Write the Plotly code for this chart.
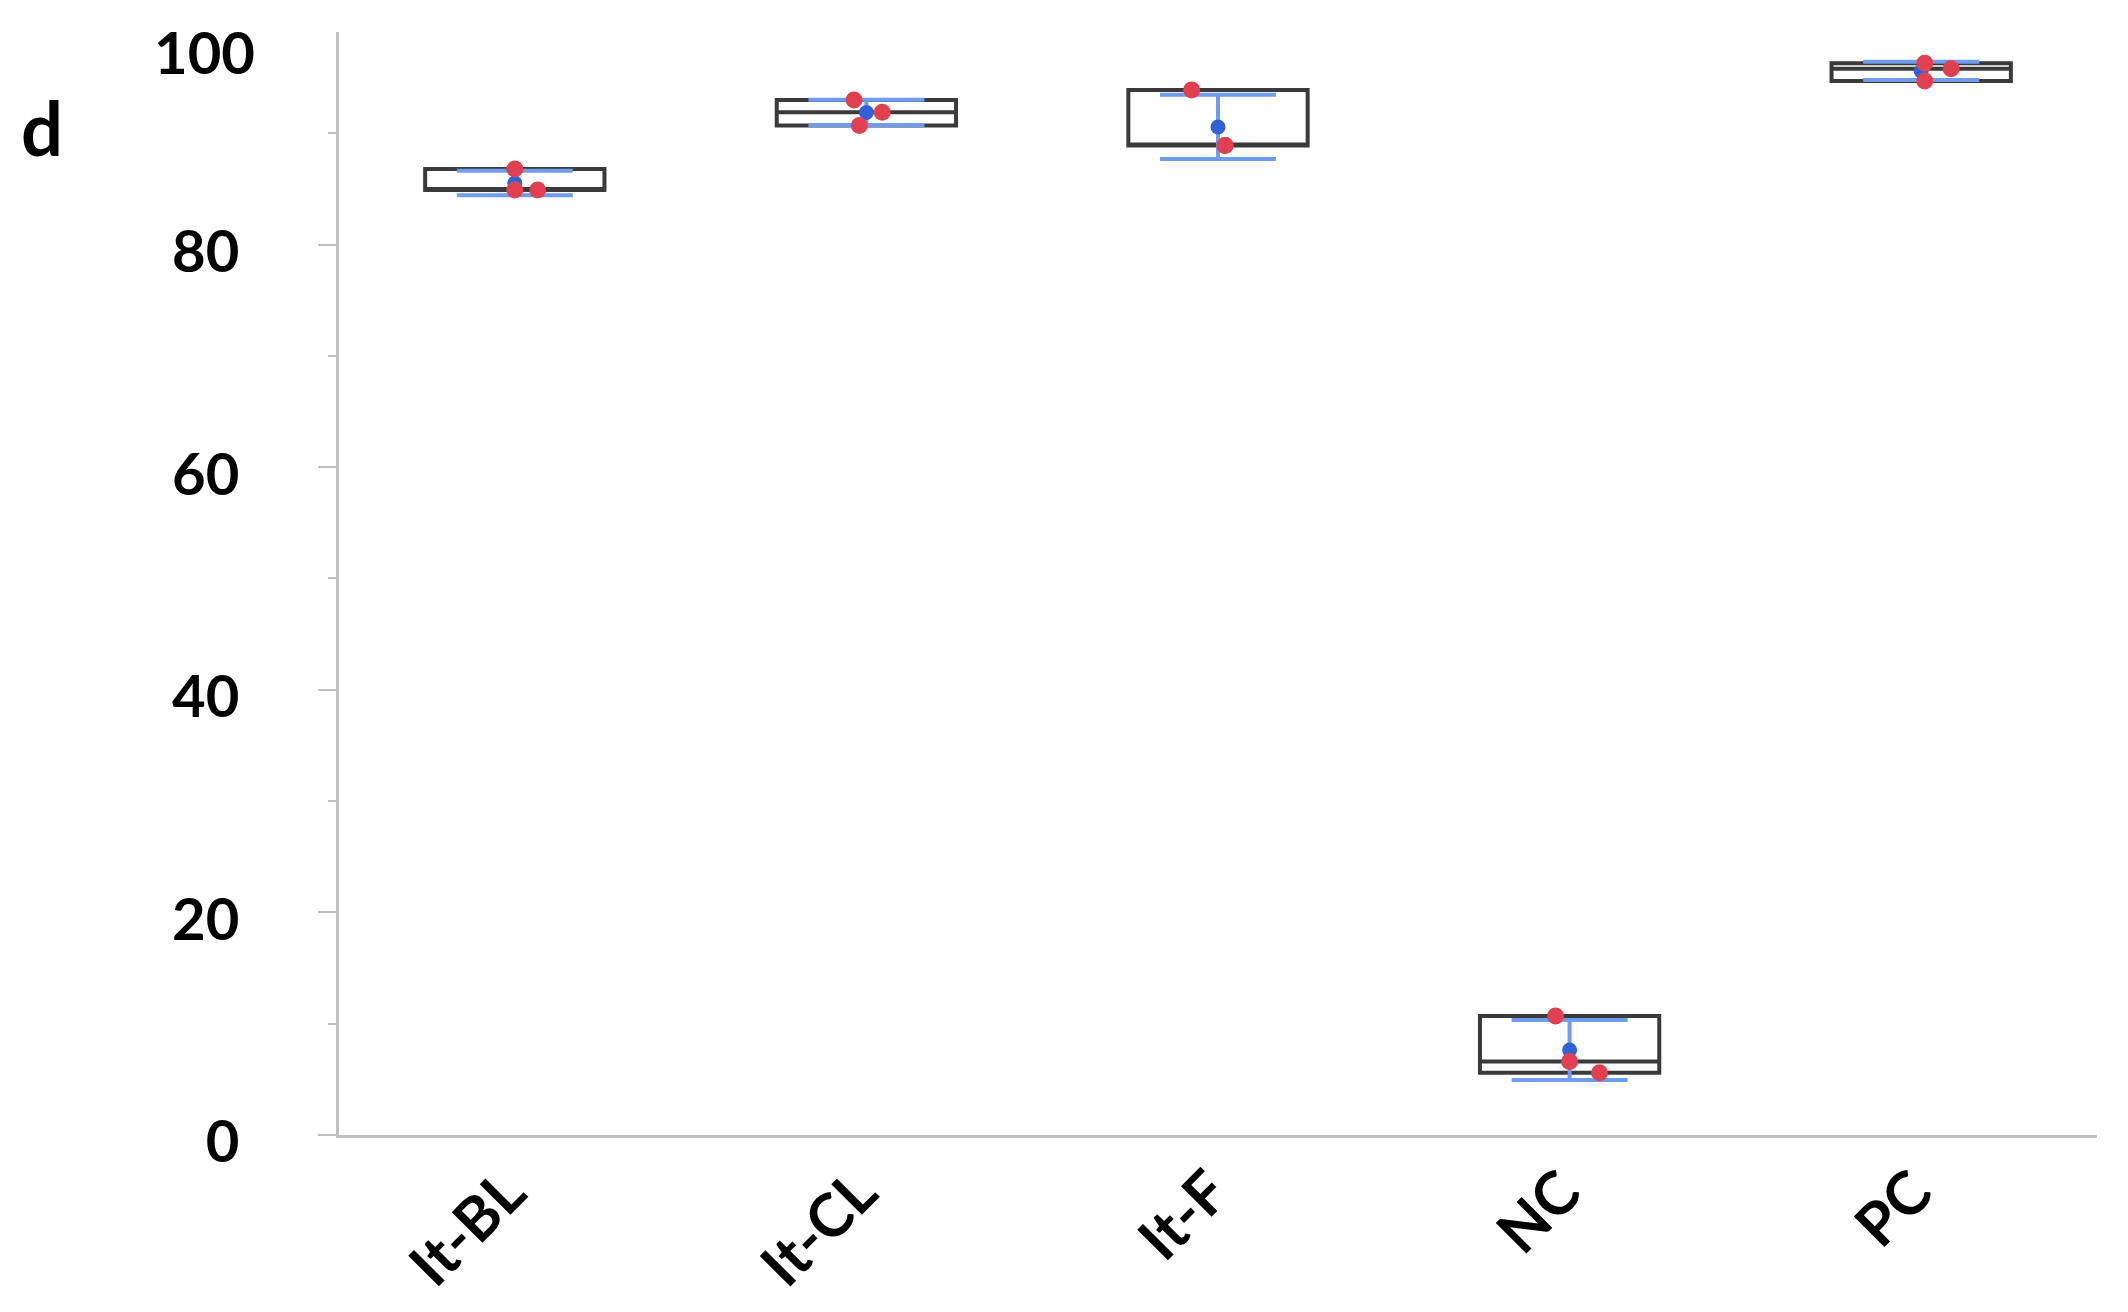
import numpy as np
import plotly.graph_objects as go

# data (three replicates per group)
groups = ["It-BL", "It-CL", "It-F", "NC", "PC"]
it_bl = [86.8, 84.9, 84.9]
it_cl = [93.0, 91.9, 90.7]
it_f = [93.9, 88.9, 88.9]
nc = [10.7, 6.6, 5.6]
pc = [96.3, 94.7, 95.8]
y_ticks = [0, 20, 40, 60, 80]
y_top_label = 100
y_max = 99.1

series = [it_bl, it_cl, it_f, nc, pc]

# horizontal scatter of the replicate dots (category units)
JITTER = [
    [0.0, 0.0, 0.065],
    [-0.035, 0.045, -0.02],
    [-0.075, 0.02, 0.02],
    [-0.04, 0.0, 0.085],
    [0.01, 0.01, 0.085],
]

BOX_LINE = "#3a3a3a"
RED = "#e0404f"
BLUE = "#2f62d6"
ERR = "#6f9cec"
AXIS = "#bfbfbf"
FONT = "Lato"

fig = go.Figure()

for i, vals in enumerate(series):
    fig.add_trace(
        go.Box(
            x=[i] * len(vals),
            y=vals,
            width=0.51,
            boxpoints=False,
            quartilemethod="exclusive",
            whiskerwidth=0,
            fillcolor="white",
            line={"color": BOX_LINE, "width": 4},
            showlegend=False,
            hoverinfo="skip",
        )
    )

means = [float(np.mean(v)) for v in series]
sds = [float(np.std(v, ddof=1)) for v in series]
fig.add_trace(
    go.Scatter(
        x=list(range(len(groups))),
        y=means,
        mode="markers",
        marker={"color": BLUE, "size": 15},
        error_y={"type": "data", "array": sds, "color": ERR, "thickness": 4, "width": 58},
        showlegend=False,
    )
)

for i, vals in enumerate(series):
    fig.add_trace(
        go.Scatter(
            x=[i + j for j in JITTER[i]],
            y=vals,
            mode="markers",
            marker={"color": RED, "size": 17},
            showlegend=False,
        )
    )

# panel letter
fig.add_annotation(
    text="<b>d</b>",
    xref="paper",
    yref="paper",
    x=-0.182,
    y=0.9556,
    showarrow=False,
    font={"family": FONT, "size": 74, "color": "black"},
)
# the axis stops just short of 100, its top label sits a little lower
fig.add_annotation(
    text=f"<b>{y_top_label}</b>",
    xref="paper",
    yref="paper",
    x=-0.0466,
    y=y_top_label / y_max,
    xanchor="right",
    yanchor="middle",
    yshift=-30,
    showarrow=False,
    font={"family": FONT, "size": 58, "color": "black"},
)

# the page body adds an 8 px offset, margins compensate for it
fig.update_layout(
    width=2128,
    height=1312,
    margin={"l": 331, "r": 39, "t": 24, "b": 185},
    paper_bgcolor="white",
    plot_bgcolor="white",
    font={"family": FONT, "color": "black"},
)
fig.update_xaxes(
    range=[-0.5, len(groups) - 0.5],
    tickvals=list(range(len(groups))),
    ticktext=[f"<b>{g}</b>" for g in groups],
    tickangle=-45,
    tickfont={"family": FONT, "size": 60, "color": "black"},
    ticklabelshift=-7,
    ticklabelstandoff=-5,
    showline=True,
    linecolor=AXIS,
    linewidth=3,
    showgrid=False,
    zeroline=False,
    ticks="",
    automargin=False,
)
fig.update_yaxes(
    range=[0, y_max],
    tickvals=y_ticks,
    ticktext=[f"<b>{t}</b>" for t in y_ticks],
    tickfont={"family": FONT, "size": 58, "color": "black"},
    ticks="outside",
    ticklen=18,
    tickwidth=2,
    tickcolor=AXIS,
    minor={"dtick": 10, "ticks": "outside", "ticklen": 8, "tickwidth": 2, "tickcolor": AXIS},
    ticklabelstandoff=67,
    ticklabelshift=7,
    showline=True,
    linecolor=AXIS,
    linewidth=3,
    showgrid=False,
    zeroline=False,
    automargin=False,
)

fig.write_html("out.html")
